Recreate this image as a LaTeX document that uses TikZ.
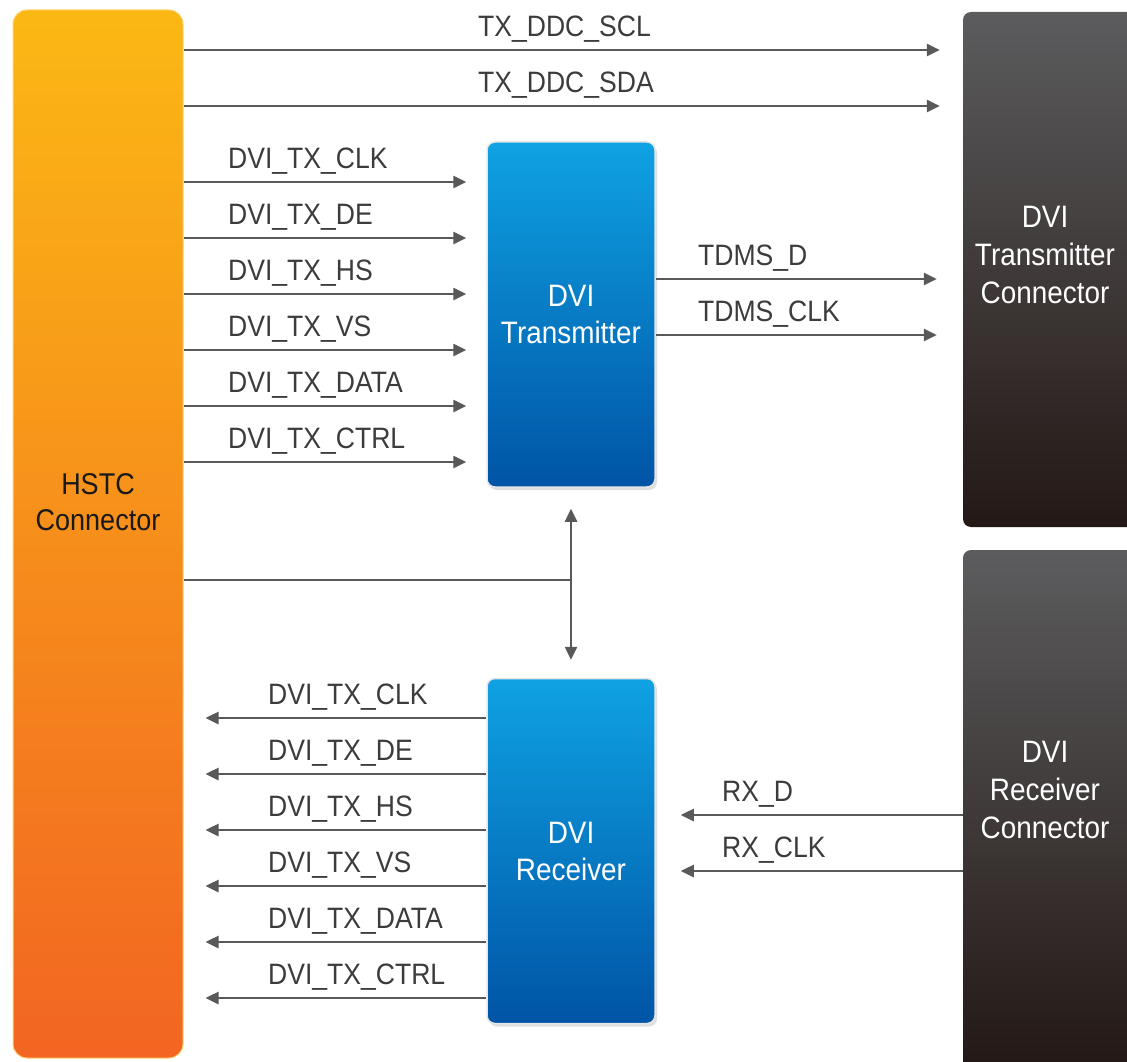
\documentclass[tikz,border=0pt]{standalone}
\usepackage{fontspec}
\setmainfont[FakeStretch=0.9]{Liberation Sans}
\usetikzlibrary{arrows.meta,shadows}
\definecolor{sigc}{HTML}{595959}
\definecolor{labc}{HTML}{3C3C3C}
\definecolor{bluetop}{HTML}{0FA2E3}
\definecolor{bluebot}{HTML}{0054A6}
\definecolor{orgtop}{HTML}{FBB814}
\definecolor{orgbot}{HTML}{F26522}
\definecolor{graytop}{HTML}{5C5C5E}
\definecolor{graybot}{HTML}{231815}
\begin{document}
\begin{tikzpicture}[x=1pt,y=-1pt,
  sigline/.style={draw=sigc, line width=2.5pt, -{Triangle[length=13pt,width=12pt]}},
  plainline/.style={draw=sigc, line width=2.5pt},
  biline/.style={draw=sigc, line width=2.5pt, {Triangle[length=13pt,width=12pt]}-{Triangle[length=13pt,width=12pt]}},
  siglabel/.style={text=labc, font=\fontsize{29.5}{32}\selectfont, anchor=base west, inner sep=0pt},
  bluebox/.style={rectangle, rounded corners=8pt, draw=white!80!gray, line width=1.5pt,
    top color=bluetop, bottom color=bluebot, minimum width=168pt, minimum height=345pt,
    text=white, font=\fontsize{31}{37}\selectfont, align=center,
    drop shadow={shadow xshift=2pt, shadow yshift=-3pt, opacity=0.25}},
  orangebox/.style={rectangle, rounded corners=14pt, draw=orgtop!60!white, line width=1pt,
    top color=orgtop, bottom color=orgbot, minimum width=170pt, minimum height=1048pt},
  graybox/.style={rectangle, rounded corners=8pt, top color=graytop, bottom color=graybot,
    minimum width=174pt},
  conntext/.style={text=white, font=\fontsize{31}{38}\selectfont, align=center, inner sep=0pt},
  hstctext/.style={text=black!90, font=\fontsize{30}{36}\selectfont, align=center, inner sep=0pt}
]
\useasboundingbox (0,0) rectangle (1127,1062);

% blocks
\node[orangebox] (hstc) at (98,534) {};
\node[hstctext] (hstcl) at (98,502) {HSTC\\Connector};
\node[bluebox] (tx) at (571,314.5) {DVI\\Transmitter};
\node[bluebox] (rx) at (571,851) {DVI\\Receiver};
\node[graybox, minimum height=515pt] (txc) at (1050,269.5) {};
\node[conntext] (txcl) at (1045,255) {DVI\\Transmitter\\Connector};
\node[graybox, minimum height=520pt] (rxc) at (1050,810) {};
\node[conntext] (rxcl) at (1045,790) {DVI\\Receiver\\Connector};

% row coordinates
\coordinate (ya) at (0,50);
\coordinate (yb) at (0,106);
\coordinate (t1) at (0,182);
\coordinate (t2) at (0,238);
\coordinate (t3) at (0,294);
\coordinate (t4) at (0,350);
\coordinate (t5) at (0,406);
\coordinate (t6) at (0,462);
\coordinate (m1) at (0,279);
\coordinate (m2) at (0,335);
\coordinate (ym) at (0,580);
\coordinate (r1) at (0,718);
\coordinate (r2) at (0,774);
\coordinate (r3) at (0,830);
\coordinate (r4) at (0,886);
\coordinate (r5) at (0,942);
\coordinate (r6) at (0,998);
\coordinate (d1) at (0,815);
\coordinate (d2) at (0,871);

% DDC lines
\draw[sigline, shorten >=23pt] (hstc.east |- ya) -- (txc.west |- ya);
\draw[sigline, shorten >=23pt] (hstc.east |- yb) -- (txc.west |- yb);
\node[siglabel] (lsa) at (478,37) {TX\_DDC\_SCL};
\node[siglabel] (lsb) at (478,93) {TX\_DDC\_SDA};

% transmitter inputs
\foreach \c in {t1,t2,t3,t4,t5,t6}{
  \draw[sigline, shorten >=20pt] (hstc.east |- \c) -- (tx.west |- \c);
}
\node[siglabel] (lx1) at (228,168) {DVI\_TX\_CLK};
\node[siglabel] (lx2) at (228,224) {DVI\_TX\_DE};
\node[siglabel] (lx3) at (228,280) {DVI\_TX\_HS};
\node[siglabel] (lx4) at (228,336) {DVI\_TX\_VS};
\node[siglabel] (lx5) at (228,392) {DVI\_TX\_DATA};
\node[siglabel] (lx6) at (228,448) {DVI\_TX\_CTRL};

% TMDS outputs
\draw[sigline, shorten >=26pt] (tx.east |- m1) -- (txc.west |- m1);
\draw[sigline, shorten >=26pt] (tx.east |- m2) -- (txc.west |- m2);
\node[siglabel] (lm1) at (698,265) {TDMS\_D};
\node[siglabel] (lm2) at (698,321) {TDMS\_CLK};

% control link
\draw[plainline] (hstc.east |- ym) -- (tx.south |- ym);
\draw[biline, shorten <=21pt, shorten >=18pt] (tx.south) -- (rx.north);

% receiver outputs
\foreach \c in {r1,r2,r3,r4,r5,r6}{
  \draw[sigline, shorten >=22pt] (rx.west |- \c) -- (hstc.east |- \c);
}
\node[siglabel] (lr1) at (268,704) {DVI\_TX\_CLK};
\node[siglabel] (lr2) at (268,760) {DVI\_TX\_DE};
\node[siglabel] (lr3) at (268,816) {DVI\_TX\_HS};
\node[siglabel] (lr4) at (268,872) {DVI\_TX\_VS};
\node[siglabel] (lr5) at (268,928) {DVI\_TX\_DATA};
\node[siglabel] (lr6) at (268,984) {DVI\_TX\_CTRL};

% RX inputs
\draw[sigline, shorten >=25pt] (rxc.west |- d1) -- (rx.east |- d1);
\draw[sigline, shorten >=25pt] (rxc.west |- d2) -- (rx.east |- d2);
\node[siglabel] (ld1) at (722,801) {RX\_D};
\node[siglabel] (ld2) at (722,857) {RX\_CLK};
\end{tikzpicture}
\end{document}
